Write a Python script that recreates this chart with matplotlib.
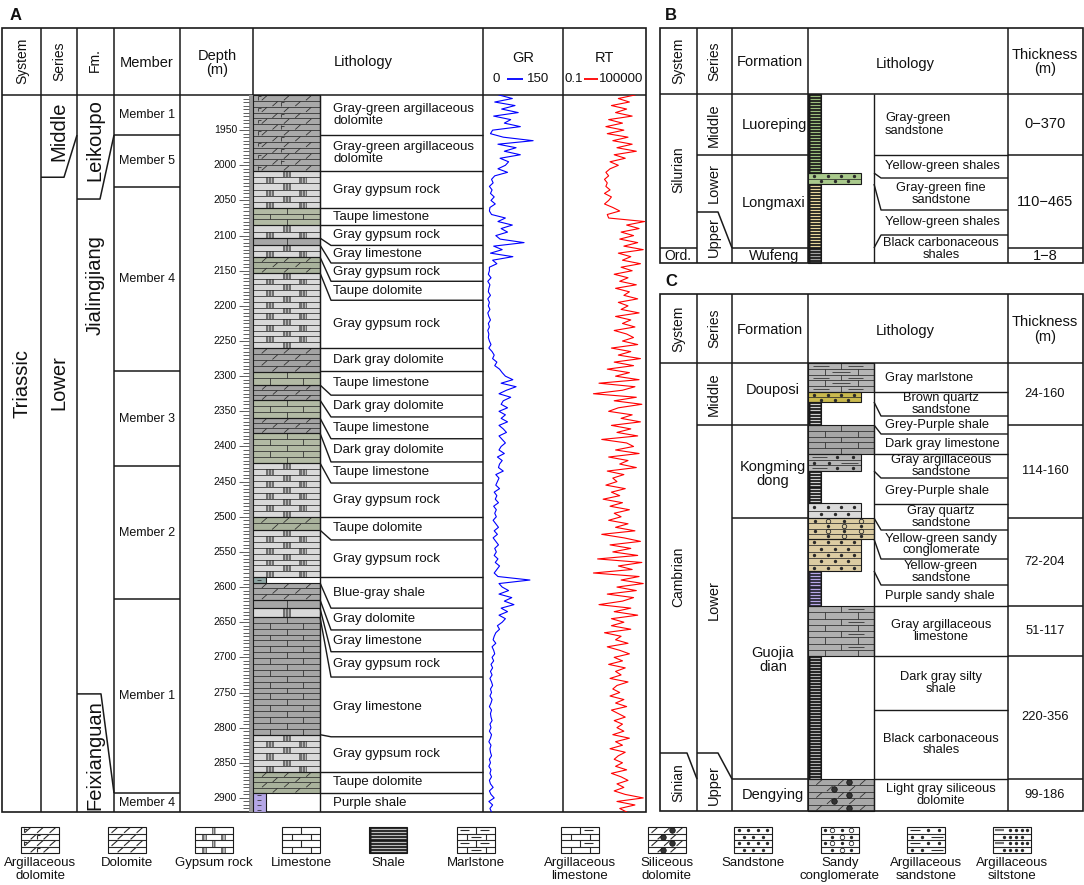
import numpy as np
import matplotlib.pyplot as plt
from matplotlib.patches import Rectangle
from matplotlib.collections import LineCollection

plt.rcParams['font.family'] = ['Liberation Sans', 'DejaVu Sans']

# ---------------------------------------------------------------- data
# well logs of panel A, one sample every 5 m
depth = np.arange(1900, 2925, 5)
gr = [30, 55, 22, 60, 35, 66, 20, 52, 40, 70,
      18, 14, 38, 94, 28, 62, 40, 70, 32, 48,
      42, 28, 46, 22, 16, 19, 12, 17, 14, 21,
      15, 23, 13, 12, 16, 42, 28, 55, 34, 46,
      24, 32, 77, 20, 36, 14, 56, 18, 26, 12,
      12, 10, 15, 9, 13, 11, 10, 14, 9, 12,
      10, 13, 9, 11, 14, 10, 12, 9, 11, 10,
      12, 15, 11, 17, 21, 18, 26, 22, 31, 36,
      42, 56, 34, 62, 44, 30, 52, 38, 34, 46,
      30, 42, 34, 46, 30, 38, 44, 30, 36, 42,
      34, 30, 40, 27, 36, 31, 29, 38, 24, 30,
      27, 24, 31, 21, 26, 23, 29, 20, 25, 22,
      25, 19, 24, 29, 21, 27, 19, 24, 29, 22,
      25, 21, 28, 23, 31, 26, 21, 28, 88, 30,
      36, 48, 30, 54, 40, 58, 34, 46, 30, 42,
      36, 27, 31, 24, 21, 19, 24, 17, 20, 22,
      17, 20, 15, 18, 14, 17, 13, 16, 18, 14,
      16, 13, 17, 15, 12, 16, 14, 15, 17, 13,
      15, 12, 16, 14, 11, 15, 13, 14, 16, 12,
      14, 11, 15, 13, 16, 12, 14, 19, 12, 15,
      21, 11, 18, 13, 16]
rt_log = [4.2, 3.0, 3.8, 2.5, 3.6, 2.8, 4.0, 2.3, 3.3, 2.1,
          3.4, 2.2, 3.7, 2.6, 4.0, 2.9, 4.3, 2.7, 3.5, 2.4,
          3.0, 2.4, 2.1, 2.3, 2.0, 2.2, 2.1, 2.4, 2.0, 2.5,
          2.3, 2.0, 2.6, 3.1, 2.2, 2.3, 4.9, 3.6, 4.5, 3.2,
          4.1, 3.1, 4.4, 3.4, 4.8, 3.0, 3.9, 3.3, 4.6, 3.2,
          4.0, 2.7, 3.7, 3.1, 4.3, 2.8, 3.8, 3.4, 4.4, 3.0,
          3.7, 3.2, 4.5, 2.8, 3.9, 3.3, 4.2, 2.7, 3.6, 4.1,
          3.3, 4.4, 2.5, 3.9, 3.0, 4.6, 2.7, 4.1, 2.2, 3.8,
          2.8, 4.5, 1.6, 4.2, 3.3, 1.2, 4.3, 2.7, 4.7, 3.0,
          2.3, 4.0, 3.2, 4.6, 2.5, 3.9, 2.9, 4.4, 1.8, 3.6,
          4.1, 2.8, 4.5, 2.3, 3.7, 3.1, 4.3, 2.2, 3.4, 2.6,
          2.9, 2.1, 3.5, 2.5, 3.1, 1.9, 3.3, 2.4, 3.8, 2.7,
          3.2, 2.3, 3.7, 2.8, 4.2, 1.8, 3.4, 4.6, 2.4, 3.9,
          2.6, 4.4, 1.5, 4.7, 3.0, 4.0, 1.2, 4.5, 3.2, 4.8,
          2.9, 4.3, 2.2, 4.1, 3.3, 1.6, 3.9, 2.7, 4.4, 2.5,
          3.4, 2.5, 3.9, 2.0, 3.2, 2.8, 3.7, 2.2, 3.1, 3.8,
          2.7, 3.3, 2.3, 3.5, 2.8, 3.2, 2.4, 3.7, 2.9, 2.6,
          3.1, 2.4, 3.4, 2.8, 3.6, 2.5, 3.0, 3.5, 2.7, 3.3,
          2.9, 3.4, 2.6, 3.8, 2.8, 3.3, 2.4, 3.5, 3.0, 2.7,
          3.3, 2.8, 3.6, 2.5, 3.2, 3.7, 2.9, 3.4, 2.7, 3.5,
          4.8, 2.9, 4.2, 3.1, 3.6]
depth_labels = list(range(1950, 2901, 50))

# panel A lithology column (depth, m)
a_top = 1900
a_layer_base = [2008, 2061, 2085, 2103.5, 2113.5, 2130.5, 2153, 2260, 2294, 2312.5,
                2334, 2359.5, 2381, 2423.5, 2500, 2519, 2586, 2594, 2618, 2630,
                2642.5, 2810, 2863, 2893, 2920]
a_layer_type = ['argdol_gray', 'gypsum', 'lime_taupe', 'gypsum', 'lime_gray', 'gypsum',
                'dol_taupe', 'gypsum', 'dol_dark', 'lime_taupe', 'dol_dark', 'lime_taupe',
                'dol_dark', 'lime_taupe', 'gypsum', 'dol_taupe', 'gypsum', 'shale_bluegray',
                'dol_gray', 'lime_gray', 'gypsum', 'lime_gray', 'gypsum', 'dol_taupe',
                'shale_purple']
a_row_base = [1957, 2008, 2061, 2085, 2114, 2139, 2165, 2192, 2260, 2293, 2327, 2358, 2389,
              2422, 2452, 2500, 2533, 2586, 2630, 2661, 2692, 2728, 2813, 2863, 2893, 2920]
a_row_link = [1957, 2008, 2061, 2085, 2103.5, 2113.5, 2130.5, 2153, 2260, 2294, 2312.5, 2334,
              2359.5, 2381, 2423.5, 2500, 2519, 2586, 2594, 2618, 2630, 2642.5, 2810, 2863,
              2893, None]
a_row_text = ['Gray-green argillaceous\ndolomite', 'Gray-green argillaceous\ndolomite',
              'Gray gypsum rock', 'Taupe limestone', 'Gray gypsum rock', 'Gray limestone',
              'Gray gypsum rock', 'Taupe dolomite', 'Gray gypsum rock', 'Dark gray dolomite',
              'Taupe limestone', 'Dark gray dolomite', 'Taupe limestone', 'Dark gray dolomite',
              'Taupe limestone', 'Gray gypsum rock', 'Taupe dolomite', 'Gray gypsum rock',
              'Blue-gray shale', 'Gray dolomite', 'Gray limestone', 'Gray gypsum rock',
              'Gray limestone', 'Gray gypsum rock', 'Taupe dolomite', 'Purple shale']
a_member_base = [1957, 2031, 2293, 2428, 2617, 2893, 2920]
a_member_name = ['Member 1', 'Member 5', 'Member 4', 'Member 3', 'Member 2', 'Member 1', 'Member 4']

# panels B and C (schematic columns)
b_layer_top = [94, 173, 184, 248]
b_layer_base = [173, 184, 248, 263]
b_layer_type = ['shale_green', 'sand_green', 'shale_yellow', 'shale_gray']
b_row_base = [155, 178, 210, 235, 263]
b_row_link = [155, 173, 184, 248, None]
b_row_text = ['Gray-green\nsandstone', 'Yellow-green shales', 'Gray-green fine\nsandstone',
              'Yellow-green shales', 'Black carbonaceous\nshales']
b_row_align = ['l', 'l', 'c', 'l', 'c']
b_thick = ['0\u2212370', '110\u2212465', '1\u22128']

c_layer_top = [363, 392, 402, 425, 454, 471, 503, 518, 539, 571, 606, 656, 779]
c_layer_base = [392, 402, 425, 454, 471, 503, 518, 539, 571, 606, 656, 779, 811]
c_layer_type = ['marl_gray', 'sand_brown', 'shale_grey', 'lime_gray', 'argsand_gray',
                'shale_grey', 'sand_light', 'congl_tan', 'sand_tan', 'shale_purple_c',
                'arglime_gray', 'shale_black', 'sildol_gray']
c_row_base = [392, 416, 434, 454, 478, 504, 530, 559, 585, 606, 656, 710, 779, 811]
c_row_link = [392, 402, 425, 454, 471, 503, 518, 539, 571, 606, 656, 710, 779, None]
c_row_text = ['Gray marlstone', 'Brown quartz\nsandstone', 'Grey-Purple shale',
              'Dark gray limestone', 'Gray argillaceous\nsandstone', 'Grey-Purple shale',
              'Gray quartz\nsandstone', 'Yellow-green sandy\nconglomerate', 'Yellow-green\nsandstone',
              'Purple sandy shale', 'Gray argillaceous\nlimestone', 'Dark gray silty\nshale',
              'Black carbonaceous\nshales', 'Light gray siliceous\ndolomite']
c_row_align = ['l', 'c', 'l', 'l', 'c', 'l', 'c', 'c', 'c', 'l', 'c', 'c', 'c', 'c']
c_thick_base = [425, 518, 606, 656, 779, 811]
c_thick = ['24-160', '114-160', '72-204', '51-117', '220-356', '99-186']

legend_kinds = ['argdol', 'dol', 'gypsum', 'lime', 'shale', 'marl',
                'arglime', 'sildol', 'sand', 'congl', 'argsand', 'argsilt']
legend_names = ['Argillaceous\ndolomite', 'Dolomite', 'Gypsum rock', 'Limestone', 'Shale',
                'Marlstone', 'Argillaceous\nlimestone', 'Siliceous\ndolomite', 'Sandstone',
                'Sandy\nconglomerate', 'Argillaceous\nsandstone', 'Argillaceous\nsiltstone']

# ---------------------------------------------------------------- styles
# type -> (pattern, fill colour, stripe colour, width class)
STYLE = {
    'argdol_gray': ('argdol', '#a9a9a9', None, 'full'),
    'gypsum': ('gypsum', '#d9d9d9', None, 'full'),
    'lime_taupe': ('lime', '#b2baa4', None, 'full'),
    'lime_gray': ('lime', '#a6a6a6', None, 'full'),
    'dol_taupe': ('dol', '#a9b29c', None, 'full'),
    'dol_dark': ('dol', '#a3a3a3', None, 'full'),
    'dol_gray': ('dol', '#a8a8a8', None, 'full'),
    'shale_bluegray': ('mud', '#8fa6a4', None, 'narrow'),
    'shale_purple': ('mud', '#b4a6e6', None, 'narrow'),
    'shale_green': ('shale', '#1a1a1a', '#9cbf7c', 'narrow'),
    'sand_green': ('sand', '#a9c98c', None, 'mid'),
    'shale_yellow': ('shale', '#1a1a1a', '#e6d69c', 'narrow'),
    'shale_gray': ('shale', '#1a1a1a', '#a0a0a0', 'narrow'),
    'marl_gray': ('marl', '#b5b5b5', None, 'full'),
    'sand_brown': ('sand', '#c9b94e', None, 'mid'),
    'shale_grey': ('shale', '#1a1a1a', '#cfcfcf', 'narrow'),
    'argsand_gray': ('argsand', '#b5b5b5', None, 'mid'),
    'sand_light': ('sand', '#dadada', None, 'mid'),
    'congl_tan': ('congl', '#dccca2', None, 'full'),
    'sand_tan': ('sand', '#dccca2', None, 'mid'),
    'shale_purple_c': ('shale', '#262632', '#b8a8e8', 'narrow'),
    'arglime_gray': ('arglime', '#b0b0b0', None, 'full'),
    'shale_black': ('shale', '#141414', '#b0b0b0', 'narrow'),
    'sildol_gray': ('sildol', '#a8a8a8', None, 'full'),
}
INK = '#1a1a1a'
PAT = '#2a2a2a'

W, H = 1084, 885
fig = plt.figure(figsize=(W / 100, H / 100), dpi=100)
canvas = fig.add_axes([0, 0, 1, 1])
canvas.set_xlim(0, W)
canvas.set_ylim(H, 0)
canvas.axis('off')


def line(ax, xs, ys, lw=1.1, color=INK, z=6):
    ax.plot(xs, ys, color=color, lw=lw, solid_capstyle='butt', zorder=z)


def txt(ax, x, y, s, fs, rot=0, ha='center', va='center', weight='normal', ls=1.05):
    ax.text(x, y, s, fontsize=fs, rotation=rot, ha=ha, va=va, fontweight=weight,
            linespacing=ls, color='#111111', zorder=8)


def litho(ax, x0, x1, y0, y1, kind, fc, ys=1.0, rh=6.0, stripe='#999999', plw=0.55):
    ax.add_patch(Rectangle((x0, y0), x1 - x0, y1 - y0, facecolor=fc, edgecolor='none', zorder=2))
    w = x1 - x0
    segs, thick, dots, rings, beads = [], [], [], [], []
    if kind in ('shale', 'mud'):
        step = (3.0 if kind == 'shale' else 4.0) * ys
        n = max(1, int((y1 - y0) / step))
        for k in range(n):
            yy = y0 + (k + 0.5) * (y1 - y0) / n
            if kind == 'shale':
                thick.append([(x0 + 1.5, yy), (x1 - 1.5, yy)])
            else:
                segs.append([(x0 + 0.3 * w, yy), (x0 + 0.62 * w, yy)])
        if thick:
            ax.add_collection(LineCollection(thick, colors=stripe, linewidths=0.9, zorder=3))
    else:
        n = max(1, int(round((y1 - y0) / (rh * ys))))
        hh = (y1 - y0) / n
        hp = hh / ys
        for i in range(n):
            yt = y0 + i * hh
            yb = yt + hh
            ym = 0.5 * (yt + yb)
            odd = i % 2
            if i > 0:
                segs.append([(x0, yt), (x1, yt)])
            if kind in ('lime', 'marl', 'arglime', 'gypsum'):
                for f in ([0.5] if not odd else [0.25, 0.75]):
                    xj = x0 + f * w
                    if kind == 'gypsum':
                        bw = min(8.0, 0.13 * w)
                        ax.add_patch(Rectangle((xj - bw / 2, yt), bw, hh, facecolor='#707070',
                                               edgecolor='none', zorder=3))
                        for g in (0.33, 0.67):
                            ax.plot([xj - bw / 2 + g * bw] * 2, [yt, yb], color='#d4d4d4',
                                    lw=0.5, zorder=3)
                    else:
                        segs.append([(xj, yt), (xj, yb)])
            if kind in ('dol', 'argdol', 'sildol'):
                for f in ([0.17, 0.5, 0.83] if not odd else [0.33, 0.67]):
                    xc = x0 + f * w
                    segs.append([(xc - 0.45 * hp, yb - 0.1 * hh), (xc + 0.45 * hp, yt + 0.1 * hh)])
            if kind == 'argdol':
                xm = x0 + (0.08 if not odd else 0.42) * w
                segs.append([(xm, yt + 0.2 * hh), (xm, yb - 0.2 * hh)])
                segs.append([(xm, yt + 0.25 * hh), (xm + 0.5 * hp, yt + 0.25 * hh)])
            if kind == 'sildol':
                beads.append((x0 + (0.62 if not odd else 0.4) * w, ym))
            if kind == 'marl':
                for a, b in ([(0.08, 0.32), (0.6, 0.84)] if not odd else [(0.36, 0.64)]):
                    segs.append([(x0 + a * w, ym), (x0 + b * w, ym)])
            if kind == 'arglime' and not odd:
                segs.append([(x0 + 0.6 * w, ym), (x0 + 0.85 * w, ym)])
            if kind == 'sand':
                for f in ([0.12, 0.37, 0.62, 0.87] if not odd else [0.25, 0.5, 0.75]):
                    dots.append((x0 + f * w, ym))
            if kind == 'congl':
                for f in ([0.1, 0.55] if not odd else [0.3, 0.8]):
                    dots.append((x0 + f * w, ym))
                for f in ([0.3, 0.8] if not odd else [0.55]):
                    rings.append((x0 + f * w, ym))
            if kind == 'argsand':
                if not odd:
                    segs.append([(x0 + 0.08 * w, ym), (x0 + 0.35 * w, ym)])
                    dots += [(x0 + 0.55 * w, ym), (x0 + 0.85 * w, ym)]
                else:
                    dots += [(x0 + 0.12 * w, ym), (x0 + 0.4 * w, ym)]
                    segs.append([(x0 + 0.62 * w, ym), (x0 + 0.95 * w, ym)])
            if kind == 'argsilt':
                if not odd:
                    thick.append([(x0 + 0.06 * w, ym), (x0 + 0.3 * w, ym)])
                    dots += [(x0 + f * w, ym) for f in (0.45, 0.6, 0.75, 0.9)]
                else:
                    dots += [(x0 + f * w, ym) for f in (0.3, 0.45, 0.6, 0.75)]
        if thick:
            ax.add_collection(LineCollection(thick, colors='#777777', linewidths=1.6, zorder=3))
    if segs:
        ax.add_collection(LineCollection(segs, colors=PAT, linewidths=plw, zorder=3))
    if dots:
        d = np.array(dots)
        ax.plot(d[:, 0], d[:, 1], ls='none', marker='o', ms=1.4, color=PAT, zorder=4)
    if rings:
        r = np.array(rings)
        ax.plot(r[:, 0], r[:, 1], ls='none', marker='o', ms=3.2, mfc='none', mec=PAT,
                mew=0.6, zorder=4)
    if beads:
        b = np.array(beads)
        ax.plot(b[:, 0], b[:, 1], ls='none', marker='o', ms=4.0, mfc='#333333', mec='#111111',
                mew=0.5, zorder=4)
    ax.add_patch(Rectangle((x0, y0), x1 - x0, y1 - y0, fill=False, edgecolor=INK, lw=0.8, zorder=5))


# ================================================================ panel A
A_L, A_R, A_T, A_H, A_B = 2, 646, 28, 95, 812
canvas.add_patch(Rectangle((A_L, A_T), A_R - A_L, A_B - A_T, fill=False, ec=INK, lw=1.2, zorder=6))
line(canvas, [A_L, A_R], [A_H, A_H])
for x in [41, 77, 114, 180, 253, 483, 563]:
    line(canvas, [x, x], [A_T, A_B])

txt(canvas, 10, 15, 'A', 12, ha='left', weight='bold')
txt(canvas, 22, 61, 'System', 10, rot=90)
txt(canvas, 59, 61, 'Series', 10, rot=90)
txt(canvas, 95, 60, 'Fm.', 10, rot=90)
txt(canvas, 147, 63, 'Member', 10.5)
txt(canvas, 217, 63, 'Depth\n(m)', 10.5)
txt(canvas, 363, 62, 'Lithology', 10.5)
txt(canvas, 523, 58, 'GR', 10.5)
txt(canvas, 604, 58, 'RT', 10.5)
txt(canvas, 496, 79, '0', 9.5)
line(canvas, [507, 523], [79, 79], lw=1.3, color='#0000ff')
txt(canvas, 538, 79, '150', 9.5)
txt(canvas, 574, 79, '0.1', 9.5)
line(canvas, [584, 598], [79, 79], lw=1.3, color='#ff0000')
txt(canvas, 621, 79, '100000', 9.5)

txt(canvas, 22, 383, 'Triassic', 14.5, rot=90)
txt(canvas, 59, 131, 'Middle', 14.5, rot=90)
txt(canvas, 59, 383, 'Lower', 14.5, rot=90)
txt(canvas, 95, 140, 'Leikoupo', 14.5, rot=90)
txt(canvas, 95, 285, 'Jialingjiang', 14.5, rot=90)
txt(canvas, 95, 755, 'Feixianguan', 14.5, rot=90)

body = fig.add_axes([0, (H - A_B) / H, 1, (A_B - A_H) / H])
body.set_xlim(0, W)
body.set_ylim(2920, 1900)
body.axis('off')
ys_a = 1020 / (A_B - A_H)

# series / formation boundaries
line(body, [41, 64, 77], [2017, 2017, 1957])
line(body, [77, 100, 114], [2048, 2048, 1957])
line(body, [77, 101, 114], [2752, 2752, 2893])

# members
m_top = a_top
for b, name in zip(a_member_base, a_member_name):
    if b < 2920:
        line(body, [114, 180], [b, b])
    txt(body, 147, 0.5 * (m_top + b), name, 9)
    m_top = b

# depth scale
body.add_patch(Rectangle((249, 1900), 4, 1020, facecolor='#9a9a9a', edgecolor='none', zorder=4))
ticks = []
for d in depth:
    if 1900 < d < 2920:
        ticks.append([(249 - (10 if d % 50 == 0 else 6), d), (249, d)])
body.add_collection(LineCollection(ticks, colors='#444444', linewidths=0.6, zorder=4))
for d in depth_labels:
    txt(body, 237, d, str(d), 7.5, ha='right')

# lithology column
t = a_top
for b, typ in zip(a_layer_base, a_layer_type):
    kind, fc, stripe, wc = STYLE[typ]
    litho(body, 253, 266 if wc == 'narrow' else 320, t, b, kind, fc, ys=ys_a, stripe=stripe or '#999')
    t = b
line(body, [320, 320], [1900, 2920], lw=1.0)

t = a_top
for b, lk, s in zip(a_row_base, a_row_link, a_row_text):
    if lk is not None:
        if abs(b - lk) < 1.5:
            line(body, [320, 483], [b, b], lw=1.0)
        else:
            line(body, [320, 331, 483], [lk, b, b], lw=1.0)
    txt(body, 333, 0.5 * (t + b), s, 9.5, ha='left', ls=1.0)
    t = b

# log curves
gr_ax = fig.add_axes([483 / W, (H - A_B) / H, 80 / W, (A_B - A_H) / H])
gr_ax.plot(gr, depth, color='#0000ff', lw=0.8)
gr_ax.set_xlim(0, 150)
gr_ax.set_ylim(2920, 1900)
gr_ax.axis('off')
rt_ax = fig.add_axes([563 / W, (H - A_B) / H, (A_R - 563) / W, (A_B - A_H) / H])
rt_ax.plot(10 ** np.array(rt_log), depth, color='#ff0000', lw=0.8)
rt_ax.set_xscale('log')
rt_ax.set_xlim(0.1, 1e5)
rt_ax.set_ylim(2920, 1900)
rt_ax.axis('off')

# ================================================================ panels B, C
X_FULL = {'full': 874, 'mid': 861, 'narrow': 821}


def frame(top, head, bottom, letter):
    canvas.add_patch(Rectangle((660, top), 1083 - 660, bottom - top, fill=False, ec=INK, lw=1.2, zorder=6))
    line(canvas, [660, 1083], [head, head])
    for x in [697, 732, 808, 1008]:
        line(canvas, [x, x], [top, bottom])
    line(canvas, [874, 874], [head, bottom], lw=1.0)
    mid = 0.5 * (top + head)
    txt(canvas, 665, top - 13, letter, 12, ha='left', weight='bold')
    txt(canvas, 678, mid, 'System', 10, rot=90)
    txt(canvas, 714, mid, 'Series', 10, rot=90)
    txt(canvas, 770, mid + 1, 'Formation', 10.5)
    txt(canvas, 905, mid + 3, 'Lithology', 10.5)
    txt(canvas, 1045, mid + 1, 'Thickness\n(m)', 10.5)


def column(tops, bases, types):
    for t, b, typ in zip(tops, bases, types):
        kind, fc, stripe, wc = STYLE[typ]
        litho(canvas, 808, X_FULL[wc], t, b, kind, fc, stripe=stripe or '#999')


def label_rows(head, bases, links, texts, aligns, fs):
    t = head
    for b, lk, s, al in zip(bases, links, texts, aligns):
        if lk is not None:
            if abs(b - lk) < 1.5:
                line(canvas, [874, 1008], [b, b], lw=1.0)
            else:
                line(canvas, [874, 881, 1008], [lk, b, b], lw=1.0)
        if al == 'c':
            txt(canvas, 941, 0.5 * (t + b), s, fs, ls=0.95)
        else:
            txt(canvas, 885, 0.5 * (t + b), s, fs, ha='left', ls=1.05)
        t = b


# ---- B
frame(28, 94, 263, 'B')
column(b_layer_top, b_layer_base, b_layer_type)
label_rows(94, b_row_base, b_row_link, b_row_text, b_row_align, 9.3)
line(canvas, [697, 808], [155, 155])
line(canvas, [1008, 1083], [155, 155])
for xa, xb in [(660, 697), (732, 808), (1008, 1083)]:
    line(canvas, [xa, xb], [248, 248])
line(canvas, [697, 718, 732], [212, 212, 248])
txt(canvas, 678, 170, 'Silurian', 10, rot=90)
txt(canvas, 678, 256, 'Ord.', 10)
txt(canvas, 714, 125, 'Middle', 10.5, rot=90)
txt(canvas, 714, 183, 'Lower', 10.5, rot=90)
txt(canvas, 714, 237, 'Upper', 10.5, rot=90)
txt(canvas, 774, 125, 'Luoreping', 10.5)
txt(canvas, 774, 203, 'Longmaxi', 10.5)
txt(canvas, 774, 256, 'Wufeng', 10.5)
for (t, b), s in zip([(94, 155), (155, 248), (248, 263)], b_thick):
    txt(canvas, 1045, 0.5 * (t + b), s, 10.5)

# ---- C
frame(294, 363, 811, 'C')
column(c_layer_top, c_layer_base, c_layer_type)
label_rows(363, c_row_base, c_row_link, c_row_text, c_row_align, 9.3)
for y in [425, 518, 779]:
    line(canvas, [732, 808], [y, y])
line(canvas, [697, 732], [425, 425])
t = 363
for b, s in zip(c_thick_base, c_thick):
    if b < 811:
        line(canvas, [1008, 1083], [b, b])
    txt(canvas, 1045, 0.5 * (t + b), s, 9.3)
    t = b
line(canvas, [660, 687, 697], [753, 753, 779])
line(canvas, [697, 718, 732], [753, 753, 779])
txt(canvas, 678, 577, 'Cambrian', 10, rot=90)
txt(canvas, 678, 783, 'Sinian', 10, rot=90)
txt(canvas, 714, 394, 'Middle', 10.5, rot=90)
txt(canvas, 714, 600, 'Lower', 10.5, rot=90)
txt(canvas, 714, 785, 'Upper', 10.5, rot=90)
txt(canvas, 773, 390, 'Douposi', 10.5)
txt(canvas, 773, 474, 'Kongming\ndong', 10.5, ls=1.0)
txt(canvas, 773, 660, 'Guojia\ndian', 10.5, ls=1.0)
txt(canvas, 773, 795, 'Dengying', 10.5)

# ================================================================ legend
leg_x = [40, 127, 214, 301, 388, 476, 580, 667, 753, 840, 926, 1012]
for cx, kind, name in zip(leg_x, legend_kinds, legend_names):
    if kind == 'shale':
        litho(canvas, cx - 19, cx + 19, 827, 853, 'shale', '#1a1a1a', stripe='#bdbdbd')
    else:
        litho(canvas, cx - 19, cx + 19, 827, 853, kind, 'white', rh=6.5, plw=0.8)
    txt(canvas, cx, 857, name, 9.5, va='top', ls=1.15)

fig.savefig('out.png', dpi=100)
